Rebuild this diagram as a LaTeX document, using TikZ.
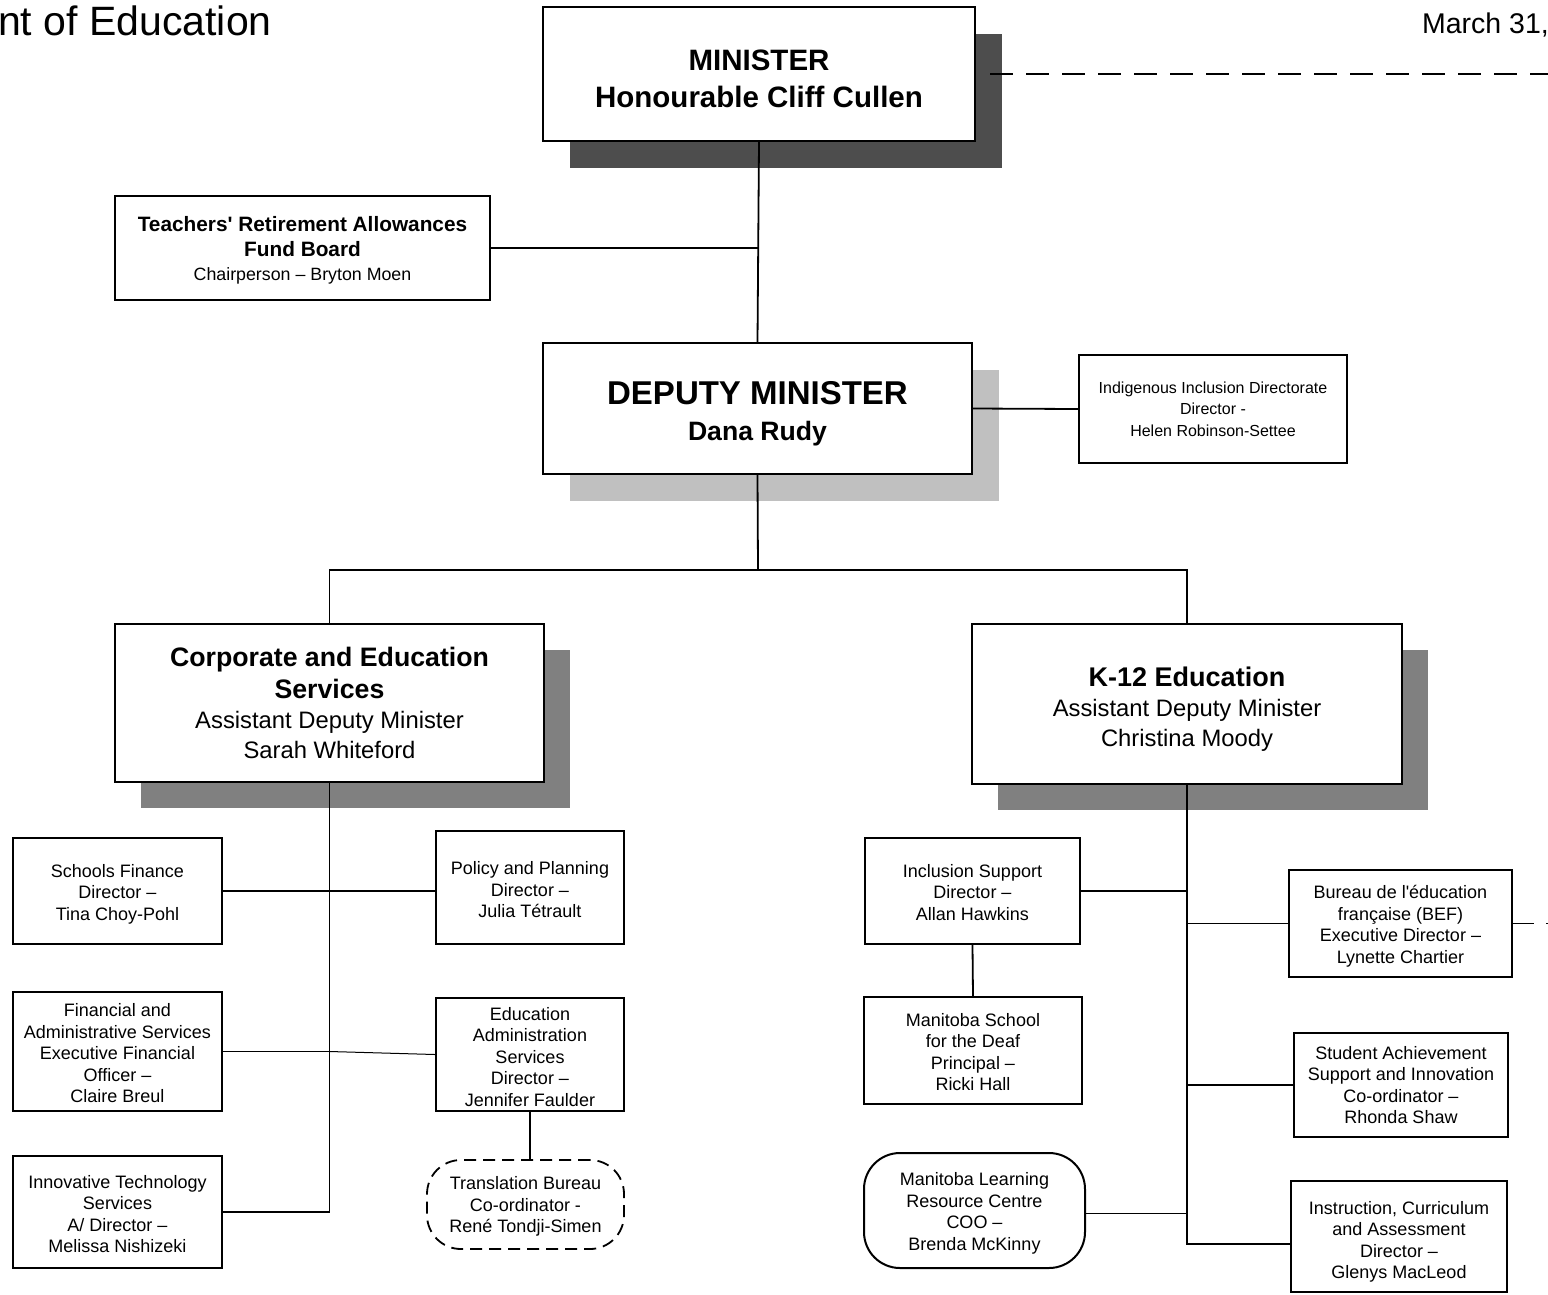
\documentclass[tikz,border=0pt]{standalone}
\usepackage{fontspec}
\setmainfont{Liberation Sans}
\usepackage{tikz}
\usetikzlibrary{shapes,positioning,shadows,calc}
\definecolor{shadowdark}{HTML}{4D4D4D}
\definecolor{shadowlight}{HTML}{C0C0C0}
\definecolor{shadowmid}{HTML}{808080}
\newcommand{\topstrut}[1][18pt]{\rule{0pt}{#1}}
\tikzstyle{block} = [rectangle, draw=black, line width=2pt, fill=white, align=center, inner sep=2pt, font=\fontsize{18}{21.5}\selectfont]
\tikzstyle{bigblock} = [block, font=\fontsize{23.8}{30}\selectfont]
\tikzstyle{line} = [draw=black, line width=1.8pt]
\tikzstyle{dashline} = [draw=black, line width=1.5pt, dash pattern=on 23pt off 13pt]

\begin{document}
\begin{tikzpicture}[x=1pt,y=-1pt]
	\path[use as bounding box, fill=white] (0,0) rectangle (1548,1294);
	\node[anchor=base west, inner sep=0, font=\fontsize{41}{41}\selectfont](title) at (-2,35){nt of Education};
	\node[anchor=base east, inner sep=0, font=\fontsize{28.5}{28.5}\selectfont](date) at (1549,33){March 31,};

	\node[bigblock, minimum width=432pt, minimum height=134pt, font=\bfseries\fontsize{29.5}{37}\selectfont,
		drop shadow={shadow xshift=27pt, shadow yshift=-27pt, fill=shadowdark, opacity=1}](minister) at (759,74){\topstrut[30pt]MINISTER \\ Honourable Cliff Cullen};
	\node[bigblock, minimum width=429pt, minimum height=131pt, font=\bfseries\fontsize{26.6}{36}\selectfont,
		drop shadow={shadow xshift=27pt, shadow yshift=-27pt, fill=shadowlight, opacity=1}](deputy) at (757.5,408.5){\topstrut[34pt]{\fontsize{33}{36}\selectfont DEPUTY MINISTER} \\ Dana Rudy};
	\node[block, minimum width=375pt, minimum height=104pt, font=\fontsize{17.8}{24.5}\selectfont](traf) at (302.5,248){\topstrut[20pt]{\bfseries\fontsize{20.8}{24.5}\selectfont Teachers\textquotesingle\ Retirement Allowances} \\ {\bfseries\fontsize{20.8}{24.5}\selectfont Fund Board} \\ Chairperson -- Bryton Moen};
	\node[block, minimum width=268pt, minimum height=108pt, font=\fontsize{16}{21.5}\selectfont](indigenous) at (1213,409){Indigenous Inclusion Directorate \\ Director - \\ Helen Robinson-Settee};

	\node[bigblock, minimum width=429pt, minimum height=158pt,
		drop shadow={shadow xshift=26pt, shadow yshift=-26pt, fill=shadowmid, opacity=1}](corporate) at (329.5,703){{\bfseries\fontsize{26.7}{30}\selectfont Corporate and Education} \\[2pt] {\bfseries\fontsize{26.7}{30}\selectfont Services} \\ Assistant Deputy Minister \\ Sarah Whiteford};
	\node[bigblock, minimum width=430pt, minimum height=160pt,
		drop shadow={shadow xshift=26pt, shadow yshift=-26pt, fill=shadowmid, opacity=1}](ktwelve) at (1187,704){\topstrut[30pt]{\bfseries\fontsize{27}{30}\selectfont K-12 Education} \\ Assistant Deputy Minister \\ Christina Moody};

	% corporate side
	\node[block, minimum width=209pt, minimum height=106pt](schoolsfinance) at (117.5,891){\topstrut[19pt]Schools Finance \\ Director -- \\ Tina Choy-Pohl};
	\node[block, minimum width=188pt, minimum height=113pt](policy) at (530,887.5){\topstrut Policy and Planning \\ Director -- \\ Julia Tétrault};
	\node[block, minimum width=209pt, minimum height=119pt](fas) at (117.5,1051.5){\topstrut[17pt]Financial and \\ Administrative Services \\ Executive Financial \\ Officer -- \\ Claire Breul};
	\node[block, minimum width=188pt, minimum height=113pt](eduadmin) at (530,1054.5){\topstrut Education \\ Administration \\ Services \\ Director -- \\ Jennifer Faulder};
	\node[block, line width=1.8pt, dash pattern=on 12pt off 7pt, rounded corners=34pt, minimum width=197pt, minimum height=89pt](translation) at (525.5,1204.5){\topstrut[17pt]Translation Bureau \\ Co-ordinator - \\ René Tondji-Simen};
	\node[block, minimum width=209pt, minimum height=112pt](its) at (117.5,1212){\topstrut[17pt]Innovative Technology \\ Services \\ A/ Director -- \\ Melissa Nishizeki};

	% k-12 side
	\node[block, minimum width=215pt, minimum height=106pt](inclusion) at (972.5,891){\topstrut[16pt]Inclusion Support \\ Director -- \\ Allan Hawkins};
	\node[block, minimum width=218pt, minimum height=107pt](deaf) at (973,1050.5){\topstrut[16pt]Manitoba School \\ for the Deaf \\ Principal -- \\ Ricki Hall};
	\node[block, rounded corners=36pt, minimum width=221pt, minimum height=115pt](mlrc) at (974.5,1210.5){\topstrut[19pt]Manitoba Learning \\ Resource Centre \\ COO -- \\ Brenda McKinny};
	\node[block, minimum width=223pt, minimum height=107pt](bef) at (1400.5,923.5){\topstrut[19pt]Bureau de l\textquotesingle éducation \\ française (BEF) \\ Executive Director -- \\ Lynette Chartier};
	\node[block, minimum width=214pt, minimum height=104pt](sasi) at (1401,1085){Student Achievement \\ Support and Innovation \\ Co-ordinator -- \\ Rhonda Shaw};
	\node[block, minimum width=216pt, minimum height=111pt](ica) at (1399,1236.5){\topstrut[24pt]Instruction, Curriculum \\ and Assessment \\ Director -- \\ Glenys MacLeod};

	\coordinate (split) at (758,570);
	\coordinate (kbottom) at (1187,1244);
	\coordinate (mright) at (1548,74);
	\coordinate (bright) at (1548,923.5);

	\path[line](minister.south)  -- (deputy.north);
	\path[line](traf.east)       -- (traf.east -| deputy.north);
	\path[line](deputy.east)     -- (indigenous.west);
	\path[line](deputy.south)    -- (split);
	\path[line](corporate.north) |- (split);
	\path[line](ktwelve.north)   |- (split);

	\path[line](corporate.south) |- (its.east);
	\path[line](schoolsfinance.east) -- (schoolsfinance.east -| policy.west);
	\path[line](fas.east)        -- (fas.east -| corporate.south);
	\path[draw, line width=1pt](fas.east -| corporate.south) -- (eduadmin.west);
	\path[line](eduadmin.south)  -- (eduadmin.south |- translation.north);

	\path[line](ktwelve.south)   -- (kbottom) -- (kbottom -| ica.west);
	\path[line](inclusion.east)  -- (inclusion.east -| ktwelve.south);
	\path[line](inclusion.south) -- (deaf.north);
	\path[line]([yshift=-3pt]mlrc.east) -- ([yshift=-3pt]mlrc.east -| ktwelve.south);
	\path[line](bef.west)        -- (bef.west -| ktwelve.south);
	\path[line](sasi.west)       -- (sasi.west -| ktwelve.south);

	\path[dashline]([xshift=14pt]minister.east) -- (mright);
	\path[dashline, dash pattern=on 21pt off 12pt](bef.east) -- (bright);
\end{tikzpicture}
\end{document}
